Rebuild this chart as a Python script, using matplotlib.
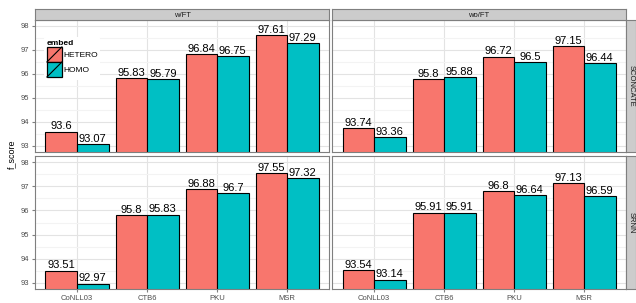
import numpy as np
import matplotlib
matplotlib.use("Agg")
import matplotlib.pyplot as plt
from matplotlib.patches import Rectangle
from matplotlib.lines import Line2D
from matplotlib.legend_handler import HandlerPatch

plt.rcParams['font.family'] = ['Liberation Sans', 'DejaVu Sans']

# ---------- DATA ----------
datasets = ["CoNLL03", "CTB6", "PKU", "MSR"]
cols = ["w/FT", "wo/FT"]
rows = ["SCONCATE", "SRNN"]
embeds = ["HETERO", "HOMO"]

wft_sconcate_hetero = [93.6, 95.83, 96.84, 97.61]
wft_sconcate_homo = [93.07, 95.79, 96.75, 97.29]
woft_sconcate_hetero = [93.74, 95.8, 96.72, 97.15]
woft_sconcate_homo = [93.36, 95.88, 96.5, 96.44]
wft_srnn_hetero = [93.51, 95.8, 96.88, 97.55]
wft_srnn_homo = [92.97, 95.83, 96.7, 97.32]
woft_srnn_hetero = [93.54, 95.91, 96.8, 97.13]
woft_srnn_homo = [93.14, 95.91, 96.64, 96.59]

panels = {
    ("SCONCATE", "w/FT"): (wft_sconcate_hetero, wft_sconcate_homo),
    ("SCONCATE", "wo/FT"): (woft_sconcate_hetero, woft_sconcate_homo),
    ("SRNN", "w/FT"): (wft_srnn_hetero, wft_srnn_homo),
    ("SRNN", "wo/FT"): (woft_srnn_hetero, woft_srnn_homo),
}

colors = {"HETERO": "#F8766D", "HOMO": "#00BFC4"}


class SlashBoxHandler(HandlerPatch):
    # old ggplot-style key: filled box with a diagonal stroke
    def create_artists(self, legend, orig_handle, xdescent, ydescent,
                       width, height, fontsize, trans):
        r = Rectangle((-xdescent, -ydescent), width, height,
                      facecolor=orig_handle.get_facecolor(),
                      edgecolor="black", linewidth=0.9, transform=trans)
        ln = Line2D([-xdescent, -xdescent + width], [-ydescent, -ydescent + height],
                    color="black", linewidth=0.8, transform=trans)
        return [r, ln]


# ---------- LAYOUT ----------
W, H = 636, 303
fig = plt.figure(figsize=(W / 100, H / 100), dpi=100)

col_x = [(35, 329), (332, 626)]
row_y = [(20, 152), (156, 289)]
strip_top = 9
strip_right = 636

border = "#7F7F7F"
strip_fill = "#CCCCCC"

x = np.arange(len(datasets))
bw = 0.45

for ri, row in enumerate(rows):
    for ci, col in enumerate(cols):
        x0, x1 = col_x[ci]
        y0, y1 = row_y[ri]
        ax = fig.add_axes([x0 / W, 1 - y1 / H, (x1 - x0) / W, (y1 - y0) / H])
        hetero, homo = panels[(row, col)]

        ax.set_ylim(92.75, 98.25)
        ax.set_xlim(-0.6, len(datasets) - 0.4)
        ax.set_yticks([93, 94, 95, 96, 97, 98])
        ax.set_yticks(np.arange(93.5, 98.0, 1.0), minor=True)
        ax.set_xticks(x)
        ax.grid(True, which="major", color="#E3E3E3", linewidth=0.8)
        ax.grid(True, which="minor", axis="y", color="#F3F3F3", linewidth=0.8)
        ax.set_axisbelow(True)

        for k, (vals, name) in enumerate(zip([hetero, homo], embeds)):
            pos = x - bw / 2 + k * bw
            ax.bar(pos, vals, width=bw, bottom=0, color=colors[name],
                   edgecolor="black", linewidth=0.8, label=name)
            for p, v in zip(pos, vals):
                ax.text(p, v + 0.01, f"{v:g}", ha="center", va="bottom",
                        fontsize=8, color="black")

        for s in ax.spines.values():
            s.set_color(border)
            s.set_linewidth(0.8)
        ax.tick_params(axis="both", which="both", length=2.5, color=border,
                       labelsize=5.5, labelcolor="#4D4D4D", pad=2)
        ax.tick_params(which="minor", length=0)
        if ci != 0:
            ax.tick_params(axis="y", length=0, labelleft=False)
        if ri != len(rows) - 1:
            ax.tick_params(axis="x", length=0, labelbottom=False)
        else:
            ax.set_xticklabels(datasets)

        # top strip
        if ri == 0:
            sax = fig.add_axes([x0 / W, 1 - y0 / H, (x1 - x0) / W, (y0 - strip_top) / H])
            sax.set_facecolor(strip_fill)
            sax.set_xticks([])
            sax.set_yticks([])
            for s in sax.spines.values():
                s.set_color(border)
                s.set_linewidth(0.8)
            sax.text(0.5, 0.45, col, ha="center", va="center", fontsize=5.5,
                     color="#1A1A1A", transform=sax.transAxes)
        # right strip
        if ci == len(cols) - 1:
            rax = fig.add_axes([x1 / W, 1 - y1 / H, (strip_right - x1) / W, (y1 - y0) / H])
            rax.set_facecolor(strip_fill)
            rax.set_xticks([])
            rax.set_yticks([])
            for s in rax.spines.values():
                s.set_color(border)
                s.set_linewidth(0.8)
            rax.text(0.5, 0.5, row, ha="center", va="center", fontsize=5.5,
                     rotation=-90, color="#1A1A1A", transform=rax.transAxes)

        if ri == 0 and ci == 0:
            handles = [Rectangle((0, 0), 1, 1, facecolor=colors[e]) for e in embeds]
            leg = ax.legend(handles, embeds, title="embed", loc="upper left",
                            bbox_to_anchor=(0.032, 0.868), fontsize=6,
                            title_fontsize=6, frameon=True, framealpha=1,
                            edgecolor="none", facecolor="white",
                            handlelength=1.8, handleheight=2.4,
                            labelspacing=0.0, handletextpad=0.15,
                            borderpad=0.3, borderaxespad=0,
                            handler_map={Rectangle: SlashBoxHandler()})
            leg.get_title().set_fontweight("bold")
            leg._legend_box.align = "left"

fig.text(12 / W, 1 - 154 / H, "f_score", rotation=90, ha="center", va="center",
         fontsize=6.5, color="black")

fig.savefig("out.png", dpi=100)
